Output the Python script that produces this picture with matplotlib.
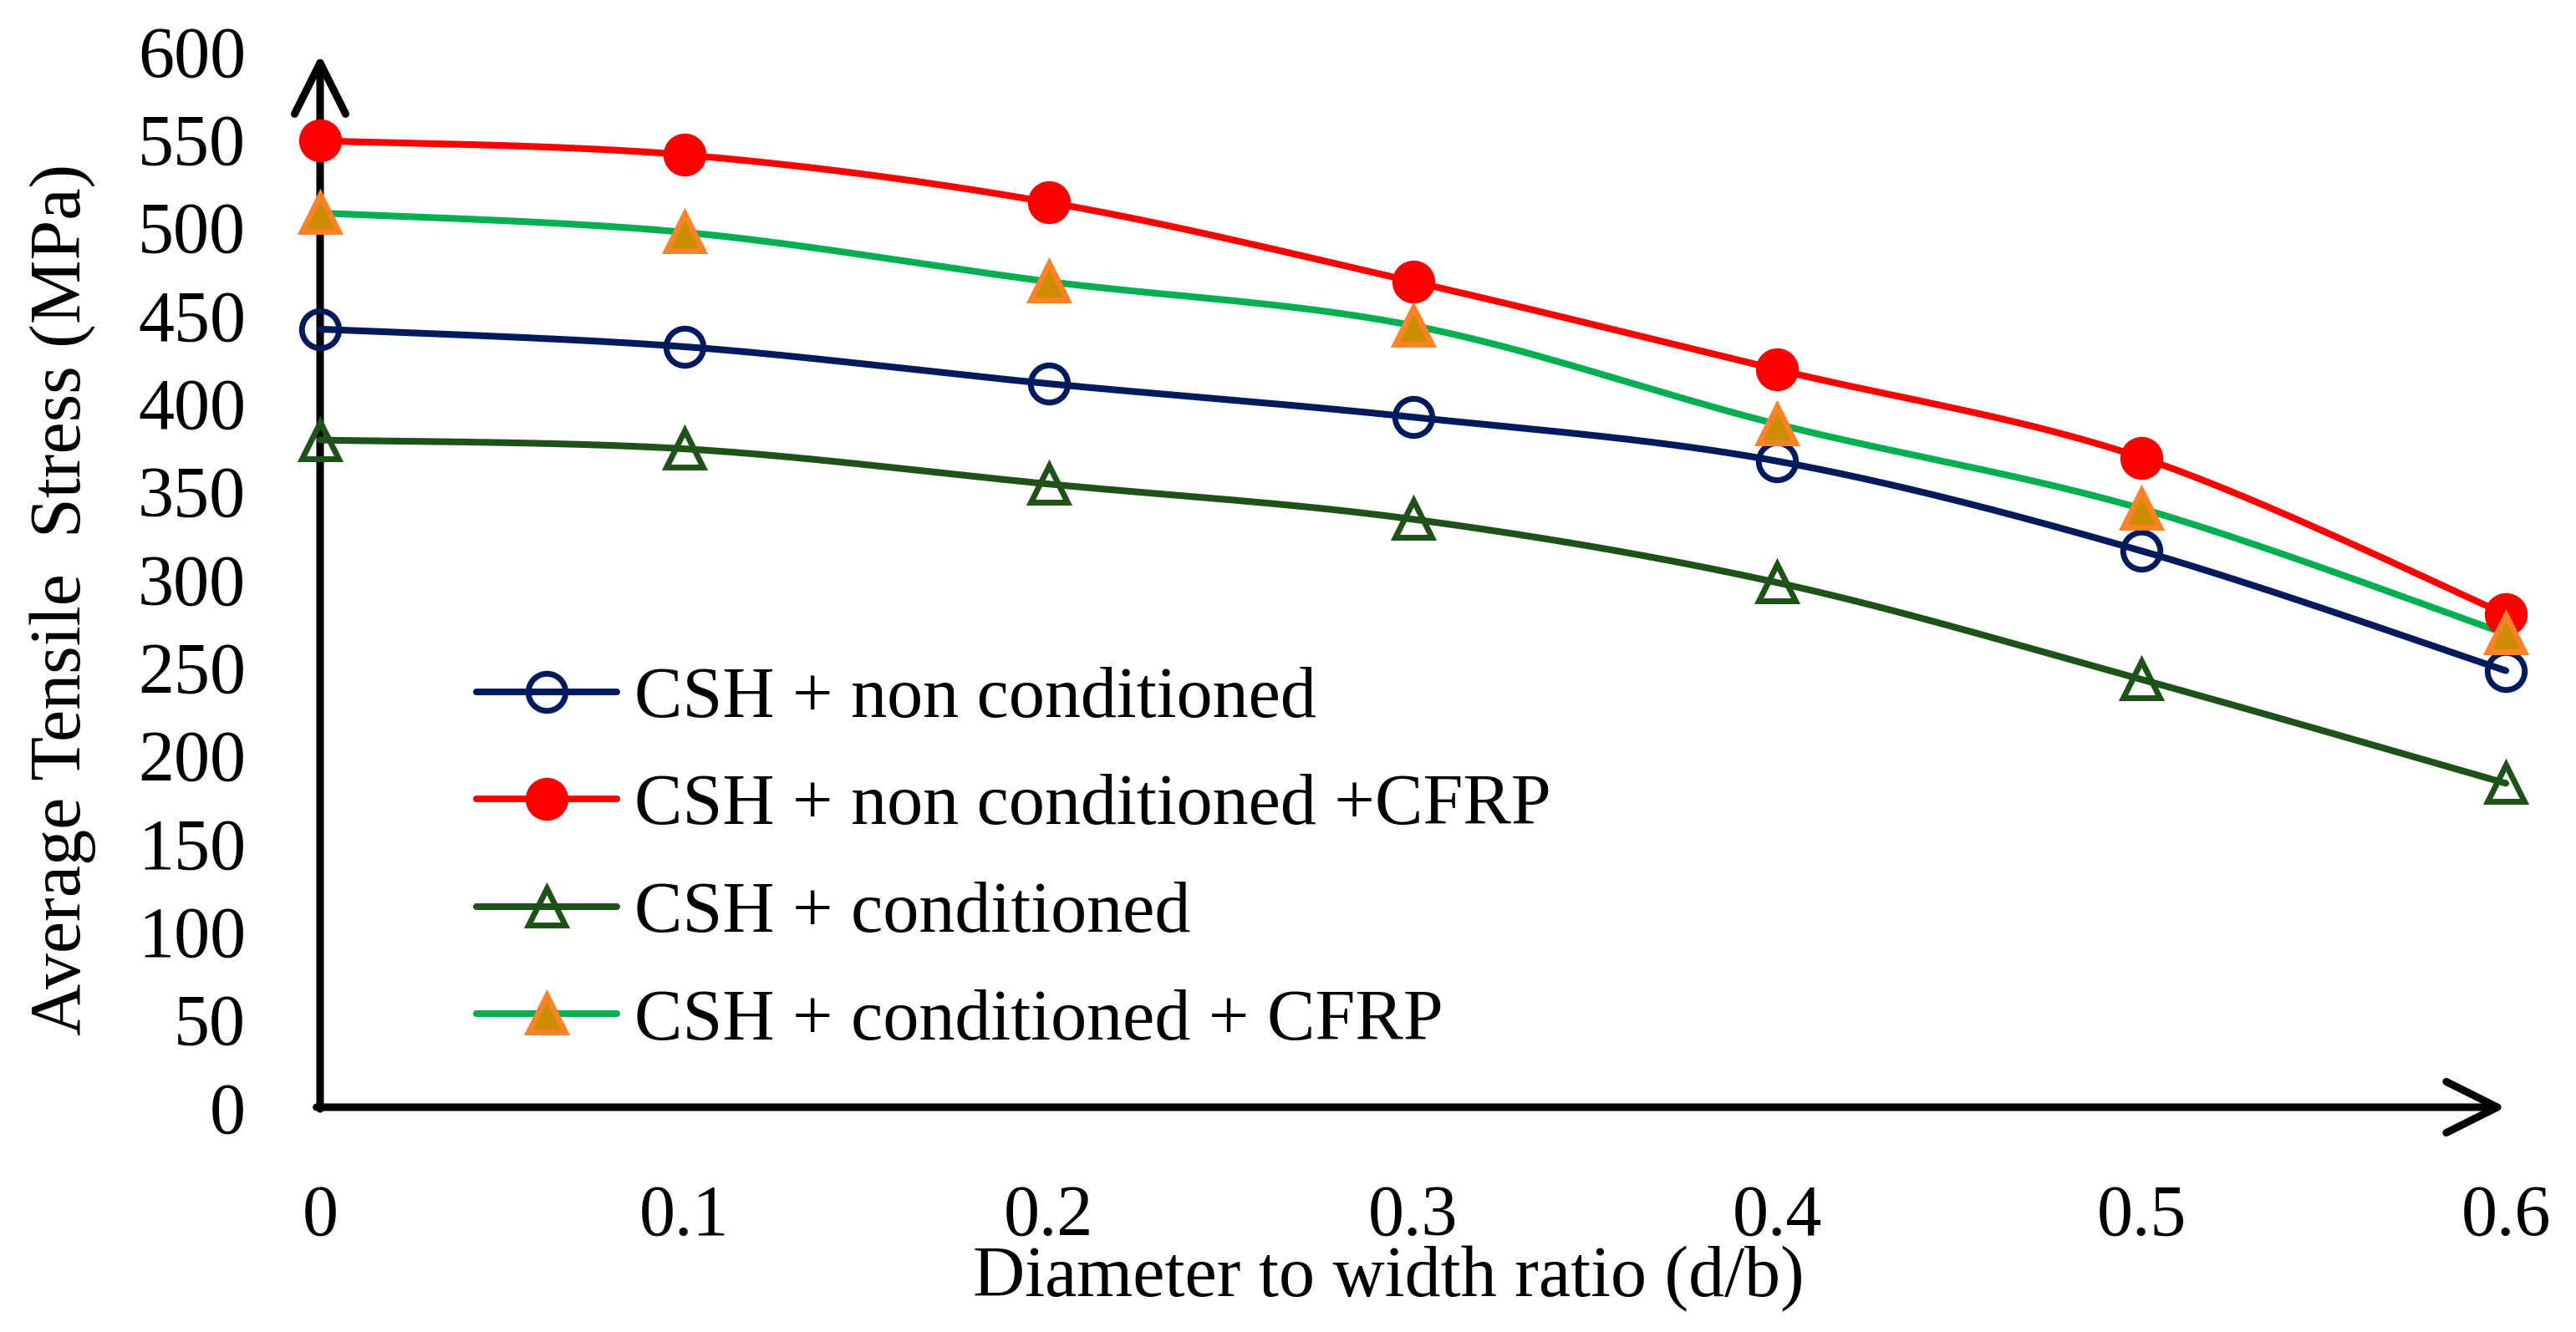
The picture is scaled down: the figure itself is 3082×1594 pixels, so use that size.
import numpy as np
import matplotlib.pyplot as plt
from matplotlib.lines import Line2D

# data
ratio = [0, 0.1, 0.2, 0.3, 0.4, 0.5, 0.6]
csh_nc = [442, 432, 411, 392, 367, 316, 248]
csh_nc_cfrp = [549, 541, 514, 469, 419, 369, 280]
csh_c = [379, 374, 354, 334, 298, 243, 184]
csh_c_cfrp = [508, 497, 469, 444, 388, 340, 269]

labels = ['CSH + non conditioned', 'CSH + non conditioned +CFRP',
          'CSH + conditioned', 'CSH + conditioned + CFRP']
xticks = [0, 0.1, 0.2, 0.3, 0.4, 0.5, 0.6]
yticks = list(range(0, 601, 50))

plt.rcParams['font.family'] = ['Liberation Serif', 'DejaVu Serif']
FS = 62


def smooth(x, y, n=40):
    # Excel-like smoothed line (Catmull-Rom through the points)
    x = np.asarray(x, float)
    y = np.asarray(y, float)
    px = np.concatenate([[x[0]], x, [x[-1]]])
    py = np.concatenate([[y[0]], y, [y[-1]]])
    xs, ys = [], []
    for i in range(1, len(x)):
        t = np.linspace(0, 1, n)
        h00 = 2 * t**3 - 3 * t**2 + 1
        h10 = t**3 - 2 * t**2 + t
        h01 = -2 * t**3 + 3 * t**2
        h11 = t**3 - t**2
        mx0 = (px[i + 1] - px[i - 1]) / 2
        mx1 = (px[i + 2] - px[i]) / 2
        my0 = (py[i + 1] - py[i - 1]) / 2
        my1 = (py[i + 2] - py[i]) / 2
        xs.append(h00 * px[i] + h10 * mx0 + h01 * px[i + 1] + h11 * mx1)
        ys.append(h00 * py[i] + h10 * my0 + h01 * py[i + 1] + h11 * my1)
    return np.concatenate(xs), np.concatenate(ys)


fig = plt.figure(figsize=(30.82, 15.94), dpi=100)
ax = fig.add_axes([383 / 3082, 1 - 1325 / 1594, (2998 - 383) / 3082, (1325 - 61) / 1594])
ax.set_xlim(0, 0.6)
ax.set_ylim(0, 600)

series = [
    (csh_nc, dict(color='#001A5E', marker='o', ms=32, mfc='none', mec='#001A5E', mew=5)),
    (csh_nc_cfrp, dict(color='#FF0000', marker='o', ms=36, mfc='#FF0000', mec='#FF0000', mew=1)),
    (csh_c, dict(color='#1E5218', marker='^', ms=31, mfc='none', mec='#1E5218', mew=5)),
    (csh_c_cfrp, dict(color='#00B050', marker='^', ms=31, mfc='#CC8E00', mec='#FA8228', mew=5)),
]

handles = []
for (vals, st), lab in zip(series, labels):
    sx, sy = smooth(ratio, vals)
    ax.plot(sx, sy, color=st['color'], lw=5.8, zorder=2, clip_on=False,
            solid_capstyle='round')
    ax.plot(ratio, vals, linestyle='none', marker=st['marker'], ms=st['ms'],
            mfc=st['mfc'], mec=st['mec'], mew=st['mew'], zorder=3, clip_on=False)
    handles.append(Line2D([], [], color=st['color'], lw=5.8, marker=st['marker'],
                          ms=st['ms'], mfc=st['mfc'], mec=st['mec'], mew=st['mew'],
                          solid_capstyle='round'))

# axes drawn as arrows
arrow = dict(arrowstyle='->,head_length=2.2,head_width=1.1', lw=6.5, color='black',
             shrinkA=0, shrinkB=0, mutation_scale=20)
ax.annotate('', xy=(0, 598), xytext=(0, -1), arrowprops=arrow, annotation_clip=False, zorder=1)
ax.annotate('', xy=(0.6, 0), xytext=(-0.001, 0), arrowprops=arrow, annotation_clip=False, zorder=1)

for s in ax.spines.values():
    s.set_visible(False)
ax.set_xticks(xticks)
ax.set_xticklabels(['0', '0.1', '0.2', '0.3', '0.4', '0.5', '0.6'])
ax.set_yticks(yticks)
ax.tick_params(axis='both', length=0, labelsize=FS)
ax.tick_params(axis='x', pad=66)
ax.tick_params(axis='y', pad=64)

ax.set_xlabel('Diameter to width ratio (d/b)', fontsize=FS, labelpad=-4)
ax.xaxis.label.set_x(0.489)
ax.set_ylabel('Average Tensile  Stress (MPa)', fontsize=FS, labelpad=36)
ax.yaxis.label.set_y(0.481)

fig.legend(handles=handles, labels=labels, loc='center left',
           bbox_to_anchor=(570 / 3082, 1 - 1030 / 1594), bbox_transform=fig.transFigure,
           frameon=False, fontsize=FS, handlelength=1.95, handletextpad=0.25,
           labelspacing=0.57, borderpad=0, borderaxespad=0)

fig.savefig('out.png', dpi=100)
